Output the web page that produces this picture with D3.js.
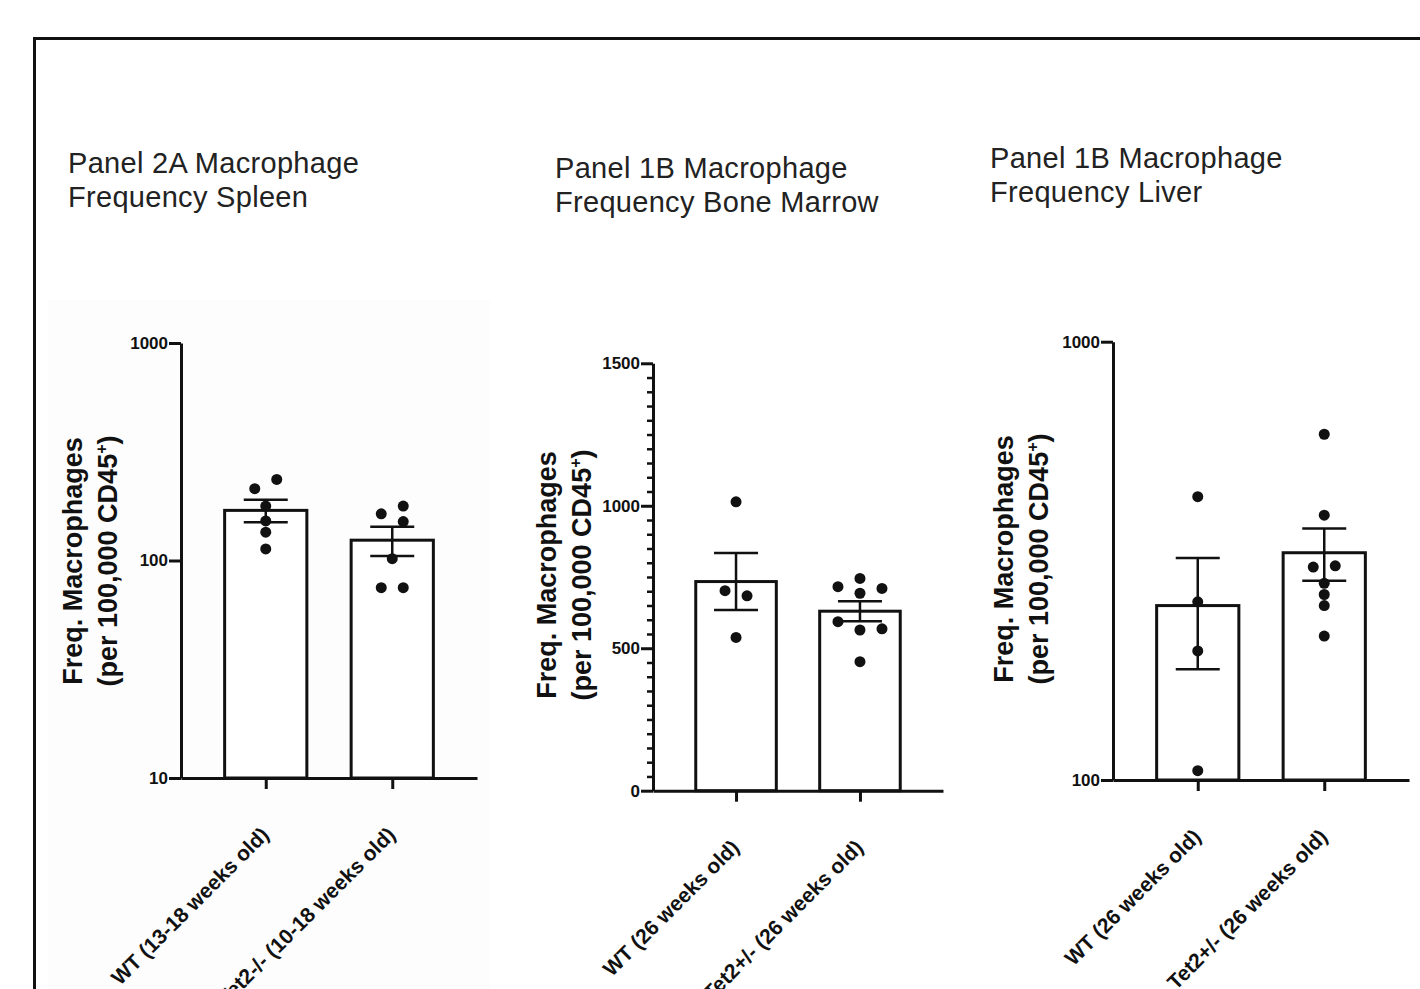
<!DOCTYPE html>
<html><head><meta charset="utf-8">
<script src="https://cdn.jsdelivr.net/npm/d3@7"></script>
<style>
body{margin:0;background:#fff;}
svg{display:block;font-family:"Liberation Sans",Arial,Helvetica,sans-serif;}
</style>
</head><body>
<svg id="c" width="1420" height="989"></svg>
<script>
// ---------------- DATA ----------------
const spleenCategories = ["WT (13-18 weeks old)", "Tet2-/- (10-18 weeks old)"];
const spleenMeans = [170, 124];
const spleenSEM = [20, 19];
const spleenWT = [214, 236, 178, 152, 135, 113];
const spleenTet2 = [164, 151, 178, 102, 75, 75];
const spleenTicks = [10, 100, 1000];

const marrowCategories = ["WT (26 weeks old)", "Tet2+/- (26 weeks old)"];
const marrowMeans = [734, 630];
const marrowSEM = [100, 35];
const marrowWT = [1014, 702, 684, 538];
const marrowTet2 = [745, 693, 710, 716, 564, 568, 593, 453];
const marrowTicks = [0, 500, 1000, 1500];

const liverCategories = ["WT (26 weeks old)", "Tet2+/- (26 weeks old)"];
const liverMeans = [250, 330];
const liverSEM = [71, 45];
const liverWT = [443, 255, 197, 105];
const liverTet2 = [615, 402, 306, 308, 281, 265, 250, 213];
const liverTicks = [100, 1000];

const titleLines = [
  ["Panel 2A Macrophage", "Frequency Spleen"],
  ["Panel 1B Macrophage", "Frequency Bone Marrow"],
  ["Panel 1B Macrophage", "Frequency Liver"]
];
const yLabelLine1 = "Freq. Macrophages";
const yLabelLine2 = "(per 100,000 CD45";

// ---------------- LAYOUT ----------------
const panels = [
  {cats: spleenCategories, means: spleenMeans, sem: spleenSEM, pts: [spleenWT, spleenTet2], ticks: spleenTicks,
   type: "log", domain: [10, 1000], x0: 181, x1: 477, yTop: 343, yBot: 778,
   tx: 68, ty: 173, lx: 82, ly: 561, title: titleLines[0]},
  {cats: marrowCategories, means: marrowMeans, sem: marrowSEM, pts: [marrowWT, marrowTet2], ticks: marrowTicks,
   type: "linear", domain: [0, 1500], minorStep: 50, x0: 653, x1: 943, yTop: 363.3, yBot: 790.7,
   tx: 555, ty: 178, lx: 556, ly: 575, title: titleLines[1]},
  {cats: liverCategories, means: liverMeans, sem: liverSEM, pts: [liverWT, liverTet2], ticks: liverTicks,
   type: "log", domain: [100, 1000], x0: 1113, x1: 1409, yTop: 341.7, yBot: 780,
   tx: 990, ty: 168, lx: 1013, ly: 559, title: titleLines[2]}
];

const INK = "#111";
const svg = d3.select("#c");

// faint background panel & border
svg.append("rect").attr("x", 48).attr("y", 300).attr("width", 442).attr("height", 700).attr("fill", "#fdfdfd");
svg.append("path").attr("d", "M34.5,989V38.5H1420").attr("fill", "none").attr("stroke", INK).attr("stroke-width", 3);

function swarm(values, y, cx, spacing, thr) {
  const placed = [];
  values.forEach(v => {
    const py = y(v);
    const cands = [0, spacing, -spacing, 2 * spacing, -2 * spacing, 3 * spacing, -3 * spacing];
    for (const dx of cands) {
      if (placed.every(p => Math.hypot(p.dx - dx, p.py - py) >= thr)) { placed.push({v, py, dx}); break; }
    }
  });
  const sorted = placed.slice().sort((a, b) => a.py - b.py);
  const clusters = [];
  let cl = [];
  sorted.forEach((p, i) => {
    if (i > 0 && p.py - sorted[i - 1].py >= thr) { clusters.push(cl); cl = []; }
    cl.push(p);
  });
  clusters.push(cl);
  clusters.forEach(c => {
    const sh = (d3.min(c, p => p.dx) + d3.max(c, p => p.dx)) / 2;
    c.forEach(p => p.dx -= sh);
  });
  return placed.map(p => ({x: cx + p.dx, y: p.py}));
}

panels.forEach(P => {
  const g = svg.append("g");
  const y = (P.type === "log" ? d3.scaleLog() : d3.scaleLinear()).domain(P.domain).range([P.yBot, P.yTop]);
  const x = d3.scalePoint().domain(P.cats).range([P.x0, P.x1]).padding(0.67);
  const bw = x.step() * 0.65;

  // title
  const t = g.append("text").attr("x", P.tx).attr("y", P.ty).attr("font-size", 29)
    .attr("letter-spacing", 0.3).attr("fill", "#222");
  t.append("tspan").attr("x", P.tx).text(P.title[0]);
  t.append("tspan").attr("x", P.tx).attr("dy", 34).text(P.title[1]);

  // y label
  const yl = g.append("g").attr("font-weight", "bold").attr("font-size", 27).attr("fill", INK).attr("text-anchor", "middle");
  yl.append("text").attr("transform", `translate(${P.lx},${P.ly}) rotate(-90)`).text(yLabelLine1);
  const l2 = yl.append("text").attr("transform", `translate(${P.lx + 35},${P.ly}) rotate(-90)`);
  l2.append("tspan").text(yLabelLine2);
  l2.append("tspan").attr("dy", -10).attr("font-size", 16).text("+");
  l2.append("tspan").attr("dy", 10).text(")");

  // bars
  P.cats.forEach((c, i) => {
    g.append("rect").attr("x", x(c) - bw / 2).attr("y", y(P.means[i]))
      .attr("width", bw).attr("height", P.yBot - y(P.means[i]))
      .attr("fill", "#fff").attr("stroke", INK).attr("stroke-width", 3);
  });

  // y axis
  const ya = g.append("g").attr("transform", `translate(${P.x0},0)`)
    .call(d3.axisLeft(y).tickValues(P.ticks).tickFormat(d3.format("d")).tickSize(12).tickSizeOuter(0).tickPadding(1));
  if (P.minorStep) {
    const minor = d3.range(P.domain[0], P.domain[1] + 1, P.minorStep).filter(v => !P.ticks.includes(v));
    g.append("g").attr("transform", `translate(${P.x0},0)`)
      .call(d3.axisLeft(y).tickValues(minor).tickFormat("").tickSize(6).tickSizeOuter(0))
      .call(s => s.select(".domain").remove())
      .selectAll("line").attr("stroke", INK).attr("stroke-width", 2.5);
  }
  ya.select(".domain").attr("stroke", INK).attr("stroke-width", 3);
  ya.selectAll(".tick line").attr("stroke", INK).attr("stroke-width", 3);
  ya.selectAll(".tick text").attr("font-family", "'Liberation Sans',Arial,sans-serif")
    .attr("font-weight", "bold").attr("font-size", 17).attr("fill", INK);

  // x axis
  const xa = g.append("g").attr("transform", `translate(0,${P.yBot})`)
    .call(d3.axisBottom(x).tickSize(11).tickSizeOuter(0));
  xa.select(".domain").attr("stroke", INK).attr("stroke-width", 3);
  xa.selectAll(".tick line").attr("stroke", INK).attr("stroke-width", 3);
  xa.selectAll(".tick text").attr("font-family", "'Liberation Sans',Arial,sans-serif")
    .attr("font-weight", "bold").attr("font-size", 21).attr("fill", INK)
    .attr("text-anchor", "end").attr("y", null).attr("dy", null)
    .attr("transform", "translate(4,58) rotate(-45)");

  // error bars
  P.cats.forEach((c, i) => {
    const hi = y(P.means[i] + P.sem[i]), lo = y(P.means[i] - P.sem[i]);
    const cx = x(c), cw = 22;
    g.append("line").attr("x1", cx).attr("x2", cx).attr("y1", hi).attr("y2", lo).attr("stroke", INK).attr("stroke-width", 2.5);
    g.append("line").attr("x1", cx - cw).attr("x2", cx + cw).attr("y1", hi).attr("y2", hi).attr("stroke", INK).attr("stroke-width", 2.5);
    g.append("line").attr("x1", cx - cw).attr("x2", cx + cw).attr("y1", lo).attr("y2", lo).attr("stroke", INK).attr("stroke-width", 2.5);
  });

  // points
  P.cats.forEach((c, i) => {
    const pos = swarm(P.pts[i], y, x(c), 22, 10.5);
    g.selectAll(null).data(pos).enter().append("circle")
      .attr("cx", d => d.x).attr("cy", d => d.y).attr("r", 5.5).attr("fill", INK);
  });
});
</script>
</body></html>
